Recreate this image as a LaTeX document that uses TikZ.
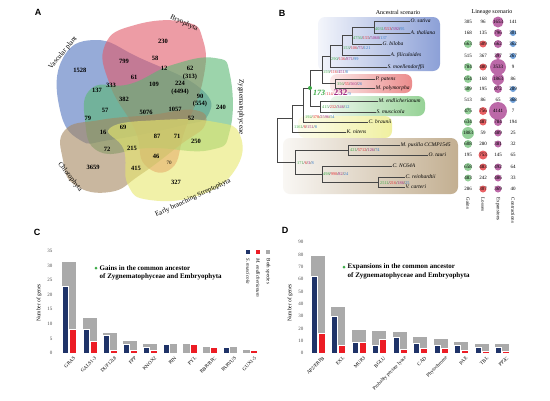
\documentclass[tikz,border=0pt]{standalone}
\usepackage{fontspec}
\setmainfont{Liberation Serif}
\setsansfont{Liberation Sans}
\usepackage{tikz}
\usetikzlibrary{calc}

\definecolor{vblue}{RGB}{80,116,190}
\definecolor{vred}{RGB}{225,90,105}
\definecolor{vgreen}{RGB}{90,184,115}
\definecolor{vtan}{RGB}{165,135,95}
\definecolor{vyellow}{RGB}{232,232,110}
\definecolor{cgain}{RGB}{60,170,70}
\definecolor{closs}{RGB}{225,45,50}
\definecolor{cexp}{RGB}{160,40,130}
\definecolor{ccon}{RGB}{50,120,200}
\definecolor{navy}{RGB}{31,51,104}
\definecolor{barred}{RGB}{236,28,36}
\definecolor{bargray}{RGB}{170,170,170}
\definecolor{treeline}{RGB}{70,70,70}
\definecolor{cladeblue}{RGB}{140,160,215}
\definecolor{cladered}{RGB}{235,140,140}
\definecolor{cladegreen}{RGB}{150,210,150}
\definecolor{cladeyellow}{RGB}{240,240,160}
\definecolor{cladebrown}{RGB}{195,175,145}

\newcommand{\brl}[4]{\textcolor{cgain}{#1}/\textcolor{closs}{#2}/\textcolor{cexp}{#3}/\textcolor{ccon}{#4}}

\begin{document}
\begin{tikzpicture}[x=1pt, y=-1pt,
    every node/.style={inner sep=0.5pt, font=\fontsize{5}{6}\selectfont},
    panel/.style={font=\sffamily\bfseries\fontsize{9}{9}\selectfont},
    setname/.style={font=\fontsize{7}{7}\selectfont},
    vnum/.style={font=\fontsize{6.5}{6.5}\selectfont\bfseries},
    vset/.style={draw=none, fill opacity=0.6},
    branch/.style={draw=treeline, line width=0.6pt},
    tip/.style={anchor=west, font=\fontsize{5.5}{5.5}\selectfont\itshape},
    brlab/.style={anchor=west, inner sep=0pt, font=\fontsize{4.3}{4.5}\selectfont},
    clade/.style={rounded corners=7pt, draw=none},
    lin/.style={font=\fontsize{5}{5}\selectfont},
    colhead/.style={rotate=-90, anchor=west, font=\fontsize{5}{5}\selectfont},
    ytick/.style={anchor=east, font=\fontsize{5}{5}\selectfont, text=black!70},
    cat/.style={rotate=45, anchor=east, font=\fontsize{5}{5}\selectfont},
    ylab/.style={rotate=90, font=\fontsize{5.5}{6}\selectfont},
    legtitle/.style={anchor=west, font=\fontsize{7}{8}\selectfont\bfseries},
    gbar/.style={fill=bargray},
    bbar/.style={fill=navy, draw=white, line width=0.6pt},
    rbar/.style={fill=barred, draw=white, line width=0.6pt}
  ]
  \useasboundingbox (0,0) rectangle (550,400);
  \fill[white] (0,0) rectangle (550,400);

  % panel A
  \node[panel] (pA) at (38,12) {A};
  \path[vset, fill=vblue] plot[smooth cycle, tension=0.8] coordinates
    {(62,60) (95,40) (140,58) (200,88) (208,115) (180,126) (110,140) (80,140) (60,110)};
  \path[vset, fill=vred] plot[smooth cycle, tension=0.8] coordinates
    {(105,45) (135,25) (185,22) (203,40) (203,80) (185,130) (172,168) (145,165) (135,130) (110,85)};
  \path[vset, fill=vgreen] plot[smooth cycle, tension=0.8] coordinates
    {(172,65) (215,58) (230,75) (230,130) (210,150) (150,148) (100,152) (85,120) (92,88) (130,84)};
  \path[vset, fill=vtan] plot[smooth cycle, tension=0.8] coordinates
    {(65,130) (100,120) (150,115) (195,110) (205,125) (180,145) (140,175) (110,192) (75,185) (63,160)};
  \path[vset, fill=vyellow] plot[smooth cycle, tension=0.8] coordinates
    {(110,128) (160,120) (215,122) (240,135) (235,170) (200,195) (150,200) (128,185) (124,150)};

  \node[setname, rotate=50] (sVas) at (63,53) {Vascular plant};
  \node[setname, rotate=-26] (sBry) at (184,23) {Bryophyta};
  \node[setname, rotate=-90] (sZyg) at (241,107) {Zygnematophyceae};
  \node[setname, rotate=-52] (sChl) at (70,177) {Chlorophyta};
  \node[setname, rotate=25] (sEbs) at (193,198) {Early branching Streptophyta};

  \foreach \x/\y/\t [count=\i] in {163/41/230, 80/70/1528, 124/61/799, 155/58/58, 164/68/12,
      190/68/62, 190/77/(313), 134/77/61, 111/85/333, 97/90/137, 154/84/109, 180/83/224,
      180/92/(4494), 124/99/382, 200/96/90, 200/104/(554), 221/107/240, 105/110/57,
      146/112/5076, 175/109/1057, 191/118/52, 88/118/79, 123/127/69, 103/132/16,
      157/136/87, 177/136/71, 196/141/250, 107/149/72, 132/148/215, 156/156/46,
      93/167/3659, 136/168/415, 176/182/327}
    \node[vnum] (v\i) at (\x,\y) {\t};
  \node[vnum, font=\fontsize{5}{5}\selectfont] (v70) at (169,163) {70};

  % panel B
  \node[panel] (pB) at (282,13) {B};
  \node[font=\fontsize{6}{6}\selectfont] (anc) at (398,12) {Ancestral scenario};
  \node[font=\fontsize{6}{6}\selectfont] (lin) at (492,12) {Lineage scenario};

  \shade[clade, left color=cladeblue!10, right color=cladeblue] (318,17) rectangle (440,71);
  \shade[clade, left color=cladered!20, right color=cladered] (330,74) rectangle (412,93);
  \shade[clade, left color=cladegreen!20, right color=cladegreen] (330,96) rectangle (425,116);
  \shade[clade, left color=cladeyellow!20, right color=cladeyellow] (298,116) rectangle (392,138);
  \shade[clade, left color=cladebrown!10, right color=cladebrown] (283,138) rectangle (458,194);

  % tips
  \coordinate (tOsa) at (410,21);
  \coordinate (tAth) at (410,33);
  \coordinate (tGbi) at (382,44);
  \coordinate (tAfi) at (390,55);
  \coordinate (tSmo) at (387,67);
  \coordinate (tPpa) at (375,79);
  \coordinate (tMpo) at (375,88);
  \coordinate (tMen) at (378,101);
  \coordinate (tSmu) at (376,112);
  \coordinate (tCbr) at (368,122);
  \coordinate (tKni) at (346,132);
  \coordinate (tMpu) at (400,145);
  \coordinate (tOta) at (428,155);
  \coordinate (tCnc) at (392,166);
  \coordinate (tCre) at (405,177);
  \coordinate (tVca) at (405,187);
  % inner nodes
  \coordinate (nAng) at (374,27);
  \coordinate (nSpe) at (352,35.5);
  \coordinate (nEup) at (342,45);
  \coordinate (nTra) at (330,56);
  \coordinate (nBry) at (335,83.5);
  \coordinate (nEmb) at (322,70);
  \coordinate (nZyg) at (320,106.5);
  \coordinate (nZE) at (310,88);
  \coordinate (nPha) at (303,105);
  \coordinate (nStr) at (292,118);
  \coordinate (nMam) at (348,150);
  \coordinate (nVol) at (378,182);
  \coordinate (nCor) at (322,174);
  \coordinate (nChl) at (295,162);
  \coordinate (nRoot) at (277,140);

  \foreach \p/\c in {nAng/tOsa, nAng/tAth, nSpe/nAng, nSpe/tGbi, nEup/nSpe, nEup/tAfi,
      nTra/nEup, nTra/tSmo, nBry/tPpa, nBry/tMpo, nEmb/nTra, nEmb/nBry, nZyg/tMen,
      nZyg/tSmu, nZE/nEmb, nZE/nZyg, nPha/nZE, nPha/tCbr, nStr/nPha, nStr/tKni,
      nMam/tMpu, nMam/tOta, nVol/tCre, nVol/tVca, nCor/tCnc, nCor/nVol, nChl/nMam,
      nChl/nCor, nRoot/nStr, nRoot/nChl}
    \draw[branch] (\p) |- (\c);

  \node[tip] (lOsa) at (tOsa) {O. sativa};
  \node[tip] (lAth) at (tAth) {A. thaliana};
  \node[tip] (lGbi) at (tGbi) {G. biloba};
  \node[tip] (lAfi) at (tAfi) {A. filiculoides};
  \node[tip] (lSmo) at (tSmo) {S. moellendorffii};
  \node[tip] (lPpa) at (tPpa) {P. patens};
  \node[tip] (lMpo) at (tMpo) {M. polymorpha};
  \node[tip] (lMen) at (tMen) {M. endlicherianum};
  \node[tip] (lSmu) at (tSmu) {S. muscicola};
  \node[tip] (lCbr) at (tCbr) {C. braunii};
  \node[tip] (lKni) at (tKni) {K. nitens};
  \node[tip] (lMpu) at (tMpu) {M. pusilla CCMP1545};
  \node[tip] (lOta) at (tOta) {O. tauri};
  \node[tip] (lCnc) at (tCnc) {C. NC64A};
  \node[tip] (lCre) at (tCre) {C. reinhardtii};
  \node[tip] (lVca) at (tVca) {V. carteri};

  \node[brlab] (bAng) at (375,29.5) {\brl{4031}{553}{392}{95}};
  \node[brlab] (bSpe) at (353,38) {\brl{4756}{155}{5060}{137}};
  \node[brlab] (bEup) at (343,48) {\brl{153}{106}{75}{121}};
  \node[brlab] (bTra) at (331,59.5) {\brl{290}{136}{871}{99}};
  \node[brlab] (bEmb) at (323,72.5) {\brl{159}{116}{451}{8}};
  \node[brlab] (bBry) at (337,84) {\brl{356}{55}{560}{26}};
  \node[brlab] (bZyg) at (322,107) {\brl{415}{232}{346}{12}};
  \node[brlab] (bPha) at (305,117) {\brl{192}{378}{2596}{54}};
  \node[brlab] (bStr) at (294,127) {\brl{1161}{8}{151}{8}};
  \node[brlab] (bChl) at (297,163.5) {\brl{171}{6}{3}{8}};
  \node[brlab] (bMam) at (350,150) {\brl{421}{5712}{126}{74}};
  \node[brlab] (bCor) at (323,174.5) {\brl{498}{990}{82}{24}};
  \node[brlab] (bVol) at (380,183) {\brl{2511}{216}{186}{25}};
  \fill[cgain] (nZE) circle (2);
  \node[anchor=west, inner sep=0pt] (bZE) at (313,93)
    {\textcolor{cgain}{\fontsize{8}{8}\selectfont\bfseries\itshape 173}\textcolor{closs}{\fontsize{4.3}{4.5}\selectfont/114/}\textcolor{cexp}{\fontsize{9}{9}\selectfont\bfseries 232}\textcolor{ccon}{\fontsize{4.3}{4.5}\selectfont/9}};

  % lineage scenario
  \foreach \y/\g/\gr/\l/\lr/\e/\er/\c/\cr [count=\i] in {
      22/305/0/96/0/1653/5.5/141/0, 33/168/0/135/0/796/4/301/3,
      44/663/4/509/3.5/662/4/362/3, 56/515/0/367/0/397/3/267/3,
      67/784/4/480/3.5/3533/8/9/0, 79/654/4/168/0/1863/6/86/0,
      89/509/3/195/0/872/4/289/3, 100/513/0/86/0/65/0/368/3,
      111/475/3.5/756/4/4141/9/7/0, 122/634/4/487/3.5/784/4/194/0,
      133/1883/6/59/0/489/3.5/25/0, 144/608/4/280/0/381/3.5/32/0,
      155/195/0/753/4.5/145/0/65/0, 167/658/4/483/3.5/492/3.5/64/0,
      178/483/3.5/242/0/486/3.5/33/0, 189/286/0/307/3.5/369/3.5/40/0} {
    \fill[cgain!55] (468,\y) circle (\gr);
    \fill[closs!75] (483,\y) circle (\lr);
    \fill[cexp!70] (498,\y) circle (\er);
    \fill[ccon!70] (513,\y) circle (\cr);
    \node[lin] (lg\i) at (468,\y) {\g};
    \node[lin] (ll\i) at (483,\y) {\l};
    \node[lin] (le\i) at (498,\y) {\e};
    \node[lin] (lc\i) at (513,\y) {\c};
  }
  \node[colhead] (hG) at (468,197) {Gains};
  \node[colhead] (hL) at (483,197) {Losses};
  \node[colhead] (hE) at (498,197) {Expansions};
  \node[colhead] (hC) at (513,197) {Contractions};

  % panel C
  \node[panel] (pC) at (37,232) {C};
  \node[ylab] (yC) at (39,303) {Number of genes};
  \foreach \v in {0,5,...,35}
    \node[ytick] (yc\v) at (53,{353-2.92*\v}) {\v};
  \foreach \name/\x/\t/\b/\r [count=\i] in {GRAS/69/31/23/8, GALS1-3/90/12/8/4,
      DUF1218/110/7/6/1, FPP/130/4/3/1, KNOX2/150/3/2/1, RIN/170/3/3/0, PYL/190/3/0/3,
      {BBR/BPC}/210/2/0/2, PARVUS/230/2/2/0, GUX1-5/250/1/0/1} {
    \fill[gbar] (\x-7,353) rectangle (\x+7,{353-2.92*\t});
    \ifnum\b>0 \path[bbar] (\x-7,353) rectangle (\x-0.3,{353-2.92*\b}); \fi
    \ifnum\r>0 \path[rbar] (\x+0.3,353) rectangle (\x+7,{353-2.92*\r}); \fi
    \node[cat] (cc\i) at (\x+6,357) {\name};
  }
  \fill[cgain] (96,268) circle (1.5);
  \node[legtitle] (tC1) at (99,268) {Gains in the common ancestor};
  \node[legtitle] (tC2) at (99,277) {of Zygnematophyceae and Embryophyta};
  \fill[navy] (246,250) rectangle (250,254);
  \fill[barred] (256,250) rectangle (260,254);
  \fill[bargray] (266,250) rectangle (270,254);
  \node[colhead, font=\fontsize{5}{5}\selectfont\itshape] (kS) at (248,258) {S. muscicola};
  \node[colhead, font=\fontsize{5}{5}\selectfont\itshape] (kM) at (258,258) {M. endlicherianum};
  \node[colhead] (kB) at (268,258) {Both species};

  % panel D
  \node[panel] (pD) at (285,230) {D};
  \node[ylab] (yD) at (290,303) {Number of genes};
  \foreach \v in {0,10,...,90}
    \node[ytick] (yd\v) at (304,{353-1.23*\v}) {\v};
  \foreach \name/\x/\t/\b/\r [count=\i] in {{AP2/ERFB}/318/79/62/16, EXL/338/37/30/6,
      MUR3/359/19/9/9, BGLU/379/18/6/11, {Probably pectate lyase}/400/17/13/3,
      CAD/420/13/8/4, Phytochrome/441/11/6/4, PAE/461/9/6/2, TBL/482/7/5/1,
      PP2C/502/7/5/1} {
    \fill[gbar] (\x-7,353) rectangle (\x+7,{353-1.23*\t});
    \path[bbar] (\x-7,353) rectangle (\x-0.3,{353-1.23*\b});
    \path[rbar] (\x+0.3,353) rectangle (\x+7,{353-1.23*\r});
    \node[cat] (cd\i) at (\x+6,357) {\name};
  }
  \fill[cgain] (344,267) circle (1.5);
  \node[legtitle] (tD1) at (347,267) {Expansions in the common ancestor};
  \node[legtitle] (tD2) at (347,276) {of Zygnematophyceae and Embryophyta};
\end{tikzpicture}
\end{document}
